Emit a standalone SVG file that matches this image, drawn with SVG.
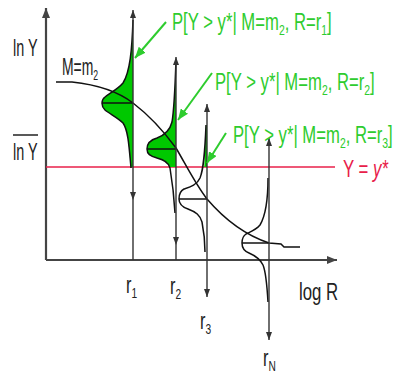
<svg xmlns="http://www.w3.org/2000/svg" width="395" height="376" viewBox="0 0 395 376">
<style>
.t{font-family:"Liberation Sans",Arial,sans-serif;font-size:24px}
.s{font-size:15px}
.g{fill:#2ecc2e}
.k{fill:#222}
.r{fill:#e8204a}
.ax{stroke:#444;stroke-width:2.2;fill:none}
.vl{stroke:#333;stroke-width:1.4;fill:none}
.ol{stroke:#111;stroke-width:1.5;fill:none}
.fl{fill:#00c800;stroke:none}
.ga{stroke:#2ecc2e;stroke-width:2;fill:none}
</style>
<defs>
<marker id="ah" markerUnits="userSpaceOnUse" markerWidth="8" markerHeight="6" refX="8" refY="3" orient="auto-start-reverse"><path d="M0,0 L8,3 L0,6 z" fill="#333"/></marker>
<marker id="axh" markerUnits="userSpaceOnUse" markerWidth="10" markerHeight="8" refX="10" refY="4" orient="auto-start-reverse"><path d="M0,0 L10,4 L0,8 z" fill="#444"/></marker>
<marker id="gh" markerUnits="userSpaceOnUse" markerWidth="11" markerHeight="9" refX="11" refY="4.5" orient="auto"><path d="M0,0 L11,4.5 L0,9 z" fill="#2ecc2e"/></marker>
<clipPath id="above"><rect x="0" y="0" width="395" height="167"/></clipPath>
</defs>

<g id="axes">
<line class="ax" x1="46" y1="260" x2="46" y2="8" marker-end="url(#axh)"/>
<line class="ax" x1="46" y1="260" x2="337" y2="260" marker-end="url(#axh)"/>
</g>

<g id="threshold">
<line x1="46" y1="167" x2="335" y2="167" stroke="#e8204a" stroke-width="1.6"/>
</g>

<g id="dist-r1">
<path class="fl" clip-path="url(#above)" d="M133,20 C132,50 130,72 123,83 C118,89 110,93 105,97 C101,100 101,106 105,110 C110,114 118,118 123,123 C128,130 129,145 131,170 L133,170 Z"/>
<path class="ol" d="M133,20 C132,50 130,72 123,83 C118,89 110,93 105,97 C101,100 101,106 105,110 C110,114 118,118 123,123 C128,130 129,145 131,168"/>
<line class="ol" x1="102" y1="103" x2="133" y2="103"/>
</g>

<g id="dist-r2">
<path class="fl" clip-path="url(#above)" d="M176,60 C175,90 174,110 172,122 C170,130 165,135 157,138 C150,140 147,144 147,149 C147,154 150,156 157,158 C165,160 169,163 170,168 L176,168 Z"/>
<path class="ol" d="M176,60 C175,90 174,110 172,122 C170,130 165,135 157,138 C150,140 147,144 147,149 C147,154 150,156 157,158 C165,160 169,163 170,168 C172,180 174,195 175,213"/>
<line class="ol" x1="147" y1="149" x2="176" y2="149"/>
</g>

<g id="dist-r3">
<path class="fl" clip-path="url(#above)" d="M206,125 C205,150 205,160 204,170 L207,170 L207,125 Z"/>
<path class="ol" d="M206,125 C205,150 204,168 200,178 C197,185 190,187 184,189 C180,191 179,195 179,199 C179,204 182,207 188,209 C196,212 200,215 202,222 C204,232 205,240 205,252"/>
<line class="ol" x1="179" y1="199" x2="207" y2="199"/>
</g>

<g id="dist-rN">
<path class="ol" d="M268,178 C268,200 266,215 260,225 C256,230 250,232 246,234 C243,236 242,240 242,243 C242,247 244,251 249,253 C256,256 260,259 263,265 C266,272 267,285 268,302"/>
<line class="ol" x1="242" y1="243" x2="269" y2="243"/>
</g>

<g id="attenuation-curve">
<path class="ol" d="M56,82 L72,82 C100,85 120,93 133,103 C150,116 165,133 176,148 C186,165 196,185 207,199 C225,220 245,235 269,243 L281,244 L284,247 L300,247"/>
</g>

<g id="connectors">
<line class="vl" x1="133" y1="200" x2="133" y2="10" marker-start="url(#ah)" marker-end="url(#ah)"/>
<line class="vl" x1="133" y1="200" x2="133" y2="260"/>
<line class="vl" x1="176" y1="245" x2="176" y2="57" marker-start="url(#ah)" marker-end="url(#ah)"/>
<line class="vl" x1="176" y1="245" x2="176" y2="260"/>
<line class="vl" x1="207" y1="297" x2="207" y2="104" marker-start="url(#ah)" marker-end="url(#ah)"/>
<line class="vl" x1="269" y1="340" x2="269" y2="138" marker-start="url(#ah)" marker-end="url(#ah)"/>
<line class="ga" x1="166" y1="22" x2="135" y2="58" marker-end="url(#gh)"/>
<line class="ga" x1="212" y1="73" x2="178" y2="120" marker-end="url(#gh)"/>
<line class="ga" x1="226" y1="133" x2="207" y2="163" marker-end="url(#gh)"/>
</g>

<g id="labels">
<text class="t k" transform="translate(13,56) scale(0.6,1)">ln Y</text>
<text class="t k" transform="translate(13,160) scale(0.6,1)">ln Y</text>
<line x1="13" y1="135" x2="38" y2="135" stroke="#222" stroke-width="1.5"/>
<text class="t k" transform="translate(62,75) scale(0.58,1)">M=m<tspan class="s" dy="5">2</tspan></text>
<text class="t g" transform="translate(172,30) scale(0.695,1)">P[Y &gt; y*| M=m<tspan class="s" dy="5">2</tspan><tspan dy="-5">, R=r</tspan><tspan class="s" dy="5">1</tspan><tspan dy="-5">]</tspan></text>
<text class="t g" transform="translate(215,90) scale(0.695,1)">P[Y &gt; y*| M=m<tspan class="s" dy="5">2</tspan><tspan dy="-5">, R=r</tspan><tspan class="s" dy="5">2</tspan><tspan dy="-5">]</tspan></text>
<text class="t g" transform="translate(233,143) scale(0.695,1)">P[Y &gt; y*| M=m<tspan class="s" dy="5">2</tspan><tspan dy="-5">, R=r</tspan><tspan class="s" dy="5">3</tspan><tspan dy="-5">]</tspan></text>
<text class="t r" transform="translate(343,177) scale(0.7,1)">Y = <tspan font-style="italic">y*</tspan></text>
<text class="t k" transform="translate(126,293) scale(0.68,1)">r<tspan class="s" dy="5">1</tspan></text>
<text class="t k" transform="translate(170,294) scale(0.68,1)">r<tspan class="s" dy="5">2</tspan></text>
<text class="t k" transform="translate(200,329) scale(0.68,1)">r<tspan class="s" dy="5">3</tspan></text>
<text class="t k" transform="translate(263,366) scale(0.68,1)">r<tspan class="s" dy="5">N</tspan></text>
<text class="t k" transform="translate(299,300) scale(0.7,1)">log R</text>
</g>
</svg>
